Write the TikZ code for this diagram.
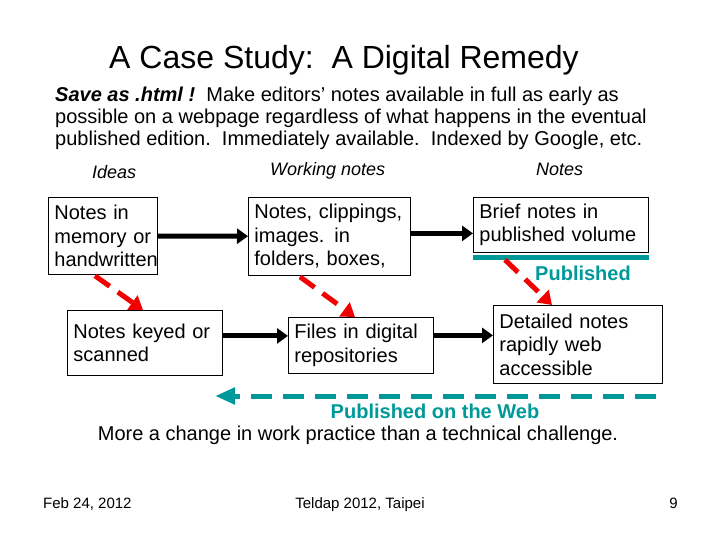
\documentclass[tikz,border=0pt]{standalone}
\usepackage{fontspec}
\setmainfont{Liberation Sans}
\usepackage{xcolor}
\usepackage{tikz}
\usetikzlibrary{arrows.meta, positioning, calc}
\definecolor{webteal}{RGB}{0,153,153}
\definecolor{movered}{RGB}{240,0,0}

\begin{document}
\begin{tikzpicture}[
    x=1pt, y=-1pt,
    every node/.style={font=\fontsize{20}{23.5}\selectfont, inner sep=0pt},
    stage/.style={draw, line width=0.8pt, anchor=north west, align=left,
                inner xsep=6pt, inner ysep=2pt},
    heading/.style={font=\fontsize{18}{24}\selectfont\itshape, anchor=base west},
    flow/.style={-{Triangle[length=11pt,width=15pt]}, line width=5pt},
    digitize/.style={-{Triangle[length=13pt,width=17pt]}, line width=5pt, draw=movered,
                dash pattern=on 18pt off 10pt},
    webline/.style={line width=5pt, draw=webteal},
    webnote/.style={font=\fontsize{20}{23.5}\selectfont\bfseries, text=webteal},
    footer/.style={font=\fontsize{15}{18}\selectfont}
]
\useasboundingbox (0,0) rectangle (720,540);

\node[font=\fontsize{32}{38}\selectfont] (title) at (344,60)
    {A Case Study:\ \ A Digital Remedy};
\node[anchor=west, align=left, font=\fontsize{20}{22}\selectfont] (intro) at (55,118)
    {\textbf{\textit{Save as .html !}}\ \ Make editors' notes available in full as early as\\
     possible on a webpage regardless of what happens in the eventual\\
     published edition.\ \ Immediately available.\ \ Indexed by Google, etc.};

\node[heading] (ideas) at (92,179) {Ideas};
\node[heading] (working) at (270,176) {Working notes};
\node[heading] (notes) at (536,176) {Notes};

\node[stage, text width=97pt, minimum height=77pt] (memory) at (48,197)
    {Notes in\\memory or\\handwritten};
\node[stage, text width=150pt, minimum height=78pt] (clippings) at (248,197)
    {Notes, clippings,\\images. in\\folders, boxes,};
\node[stage, text width=163pt, minimum height=55pt] (brief) at (473,197)
    {Brief notes in\\published volume};
\node[stage, text width=143pt, minimum height=65pt] (keyed) at (67,310)
    {Notes keyed or\\scanned};
\node[stage, text width=133pt, minimum height=56pt] (files) at (288,317)
    {Files in digital\\repositories};
\node[stage, text width=157pt, minimum height=78pt] (detailed) at (493,305)
    {Detailed notes\\rapidly web\\accessible};

\draw[webline] ([yshift=-5pt]brief.south west) -- ([yshift=-5pt]brief.south east);
\node[webnote] (published) at (583,273) {Published};

\draw[flow] (memory) -- (clippings);
\draw[flow] ([yshift=3pt]clippings.east) -- ([yshift=3pt]clippings.east -| brief.west);
\draw[flow] ([yshift=7pt]keyed.east) -- ([yshift=7pt]keyed.east -| files.west);
\draw[flow] ([yshift=10pt]files.east) -- ([yshift=10pt]files.east -| detailed.west);

\draw[digitize] ([xshift=47pt,yshift=-1pt]memory.south west) -- ([xshift=76pt]keyed.north west);
\draw[digitize] ([xshift=52pt,yshift=-1pt]clippings.south west) -- ([xshift=67pt]files.north west);
\draw[digitize] ([xshift=32pt,yshift=-7pt]brief.south west) -- ([xshift=59pt]detailed.north west);

\coordinate (webstart) at (656,396);
\coordinate (webend) at (215,396);
\draw[webline, -{Triangle[length=20pt,width=16pt]}, dash pattern=on 21pt off 11pt]
    (webstart) -- (webend);
\node[webnote] (onweb) at (435,411) {Published on the Web};
\node (practice) at (358,435) {More a change in work practice than a technical challenge.};

\node[footer, anchor=base west] (date) at (43,508) {Feb 24, 2012};
\node[footer, anchor=base] (venue) at (360,508) {Teldap 2012, Taipei};
\node[footer, anchor=base east] (page) at (678,508) {9};
\end{tikzpicture}
\end{document}
